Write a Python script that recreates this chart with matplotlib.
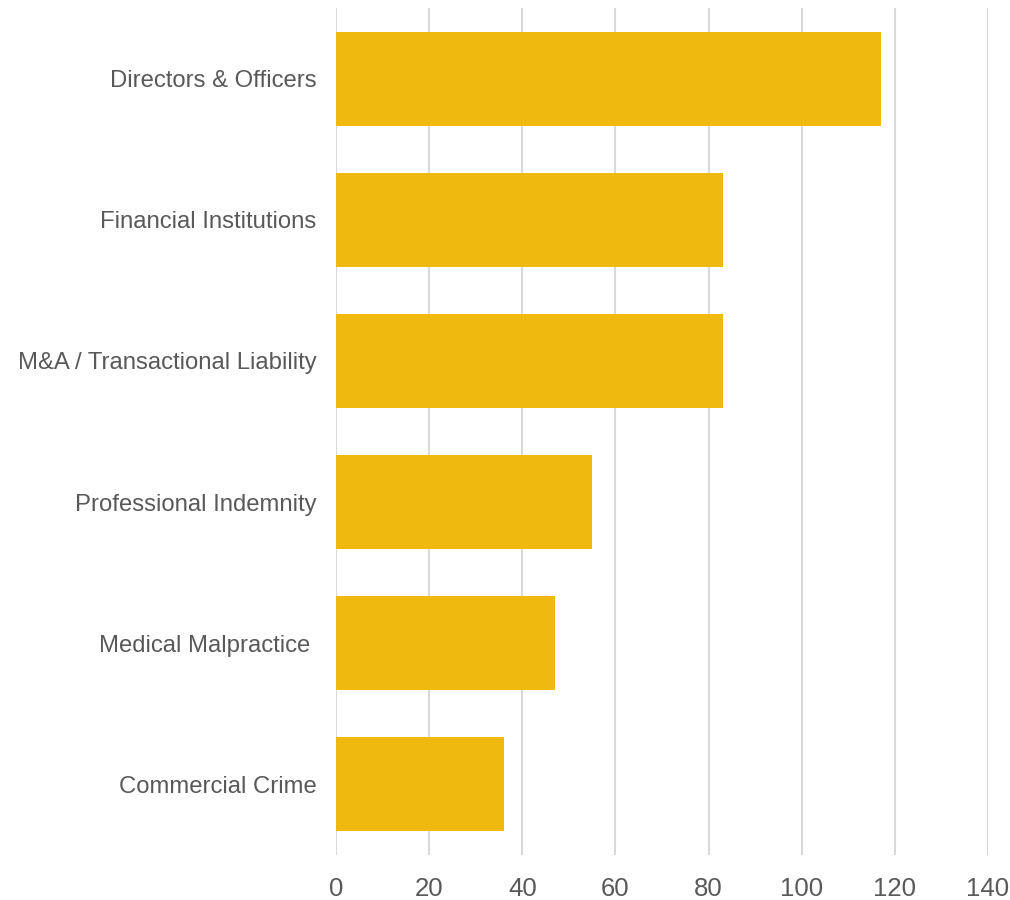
import matplotlib.pyplot as plt

# Données
categories = ['Directors & Officers', 'Financial Institutions', 'M&A / Transactional Liability',
              'Professional Indemnity', 'Medical Malpractice ', 'Commercial Crime']
valeurs = [117, 83, 83, 55, 47, 36]
graduations = [0, 20, 40, 60, 80, 100, 120, 140]

plt.rcParams['font.family'] = ['Liberation Sans', 'DejaVu Sans']

fig = plt.figure(figsize=(10.1, 9), dpi=100)
ax = fig.add_axes([0.3327, 0.05, 0.9782 - 0.3327, 0.9911 - 0.05])

# Barres horizontales, la première catégorie en haut
pos = list(range(len(categories)))[::-1]
ax.barh(pos, valeurs, height=0.665, color='#EFB90F', zorder=2)

ax.set_xlim(0, 140)
ax.set_ylim(-0.5, len(categories) - 0.5)
ax.set_xticks(graduations)
ax.set_yticks(pos)
ax.set_yticklabels(categories)

# Grille verticale grise
ax.grid(axis='x', color='#D9D9D9', linewidth=1.5, zorder=0)
for s in ax.spines.values():
    s.set_visible(False)
ax.tick_params(length=0, labelcolor='#595959')
ax.tick_params(axis='x', pad=16, labelsize=18.5)
ax.tick_params(axis='y', pad=14, labelsize=17.2)

plt.savefig('out.png')
